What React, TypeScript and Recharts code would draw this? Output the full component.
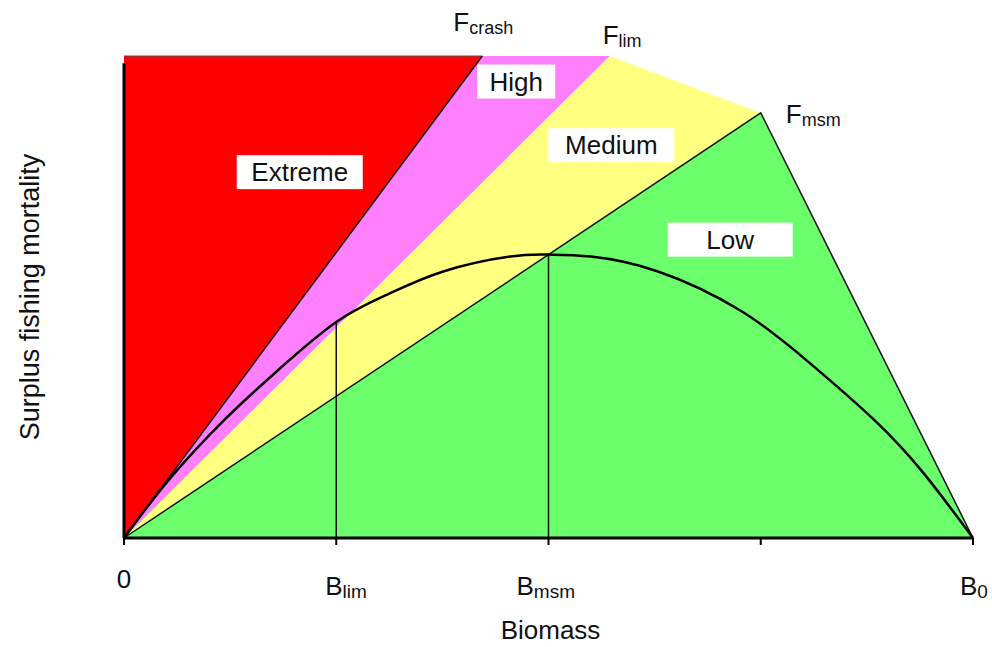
import React from 'react'
import { ComposedChart, Area, Line, XAxis, YAxis, ReferenceLine, ReferenceDot } from 'recharts'

// biomass axis, B0 = 100
const xTicks = [0, 25, 50, 75, 100]
const tickMain = ['0', 'B', 'B', '', 'B']
const tickSub = ['', 'lim', 'msm', '', '0']

// fishing mortality reference points
const fNames = ['crash', 'lim', 'msm']
const fX = [42.2, 57.2, 75]
const fY = [100, 100, 88.2]

// top edge of each zone (painted in order, each one covers the part below it)
const redX = [0, 42.2]
const redY = [100, 100]
const highX = [0, 42.2, 57.2]
const highY = [0, 100, 100]
const mediumX = [0, 57.2, 75]
const mediumY = [0, 100, 88.2]
const lowX = [0, 75, 100]
const lowY = [0, 88.2, 0]

// F crash line
const crashX = [0, 42.2]
const crashY = [0, 100]

// surplus production curve
const curveX = [0, 5.4, 12, 18, 25, 31, 37.6, 45.5, 50, 55, 62.9, 72.6, 80.5, 88.3, 94.2, 100]
const curveY = [0, 12.3, 24.8, 34.6, 44.8, 50.5, 55.3, 58.4, 58.8, 58.4, 55.3, 47.2, 36.7, 24.6, 13.4, 0]

// drop lines at B lim and B msm
const blimX = [25, 25]
const blimY = [0, 44.8]
const bmsmX = [50, 50]
const bmsmY = [0, 58.7]

// zone labels
const zoneNames = ['Extreme', 'High', 'Medium', 'Low']
const zoneX = [20.7, 46.2, 57.4, 71.4]
const zoneY = [75.9, 94.7, 81.5, 61.9]

const pts = (xs: number[], ys: number[]) => xs.map((x, i) => ({ x, y: ys[i] }))

const FONT = '"Liberation Sans", Arial, sans-serif'
const boxW: Record<string, number> = { Extreme: 126, High: 78, Medium: 126, Low: 125 }
const fOffset: Record<string, [number, number]> = { crash: [-29, -25], lim: [-7, -12], msm: [25, 10] }

function BiomassTick({ x, y, payload }: any) {
  const i = xTicks.indexOf(payload.value)
  if (i < 0 || !tickMain[i]) return null
  if (!tickSub[i]) {
    return (
      <text x={x} y={y + 41} textAnchor="middle" fontSize={26} fontFamily={FONT} fill="#111">
        {tickMain[i]}
      </text>
    )
  }
  const dx = [0, -11, -32, 0, -13][i]
  return (
    <text x={x + dx} y={y + 48} fontSize={26} fontFamily={FONT} fill="#111">
      {tickMain[i]}
      <tspan fontSize={19} dy={3}>{tickSub[i]}</tspan>
    </text>
  )
}

function ZoneBox({ cx, cy, name }: any) {
  const w = boxW[name]
  const h = 34
  return (
    <g>
      <rect x={cx - w / 2} y={cy - h / 2} width={w} height={h} fill="#fff" />
      <text x={cx} y={cy + 9} textAnchor="middle" fontSize={26} fontFamily={FONT} fill="#111">
        {name}
      </text>
    </g>
  )
}

function FLabel({ cx, cy, name }: any) {
  const [dx, dy] = fOffset[name]
  return (
    <text x={cx + dx} y={cy + dy} fontSize={26} fontFamily={FONT} fill="#111">
      F<tspan fontSize={18} dy={3}>{name}</tspan>
    </text>
  )
}

export default function App() {
  return (
    <div style={{ position: 'absolute', left: 0, top: 0, background: '#fff' }}>
      <ComposedChart width={992} height={647} margin={{ top: 56, right: 19, bottom: 9, left: 0 }}>
        <XAxis
          type="number"
          dataKey="x"
          domain={[0, 100]}
          ticks={xTicks}
          interval={0}
          tickSize={7}
          axisLine={{ stroke: '#000', strokeWidth: 3 }}
          tickLine={{ stroke: '#000', strokeWidth: 2 }}
          tick={<BiomassTick />}
          height={100}
          label={{
            content: ({ viewBox }: any) => (
              <text x={viewBox.x + viewBox.width / 2 + 2} y={viewBox.y + 101} textAnchor="middle" fontSize={26} fontFamily={FONT} fill="#111">
                Biomass
              </text>
            ),
          }}
        />
        <YAxis
          type="number"
          domain={[0, 100]}
          width={124}
          tick={false}
          tickLine={false}
          axisLine={false}
          label={{
            content: ({ viewBox }: any) => {
              const cx = viewBox.x + 30
              const cy = viewBox.y + viewBox.height / 2
              return (
                <text x={cx} y={cy} transform={`rotate(-90 ${cx} ${cy})`} textAnchor="middle" dominantBaseline="central" fontSize={27} fontFamily={FONT} fill="#111">
                  Surplus fishing mortality
                </text>
              )
            },
          }}
        />

        <Area data={pts(redX, redY)} dataKey="y" type="linear" fill="#FF0000" fillOpacity={1} stroke="#555" strokeWidth={1} isAnimationActive={false} />
        <Area data={pts(highX, highY)} dataKey="y" type="linear" fill="#FF80FF" fillOpacity={1} stroke="none" isAnimationActive={false} />
        <Area data={pts(mediumX, mediumY)} dataKey="y" type="linear" fill="#FFFF80" fillOpacity={1} stroke="none" isAnimationActive={false} />
        <Area data={pts(lowX, lowY)} dataKey="y" type="linear" fill="#6BFF6B" fillOpacity={1} stroke="#111" strokeWidth={1.5} isAnimationActive={false} />

        <Line data={pts(crashX, crashY)} dataKey="y" type="linear" stroke="#111" strokeWidth={1.5} dot={false} activeDot={false} isAnimationActive={false} />
        <Line data={pts(blimX, blimY)} dataKey="y" type="linear" stroke="#111" strokeWidth={1.5} dot={false} activeDot={false} isAnimationActive={false} />
        <Line data={pts(bmsmX, bmsmY)} dataKey="y" type="linear" stroke="#111" strokeWidth={1.5} dot={false} activeDot={false} isAnimationActive={false} />
        <Line data={pts(curveX, curveY)} dataKey="y" type="natural" stroke="#000" strokeWidth={2.5} dot={false} activeDot={false} isAnimationActive={false} />

        <ReferenceLine segment={[{ x: 0, y: 0 }, { x: 0, y: 98.5 }]} stroke="#000" strokeWidth={3} />

        {zoneNames.map((name, i) => (
          <ReferenceDot key={name} x={zoneX[i]} y={zoneY[i]} shape={(p: any) => <ZoneBox {...p} name={name} />} />
        ))}
        {fNames.map((name, i) => (
          <ReferenceDot key={name} x={fX[i]} y={fY[i]} shape={(p: any) => <FLabel {...p} name={name} />} />
        ))}
      </ComposedChart>
    </div>
  )
}
